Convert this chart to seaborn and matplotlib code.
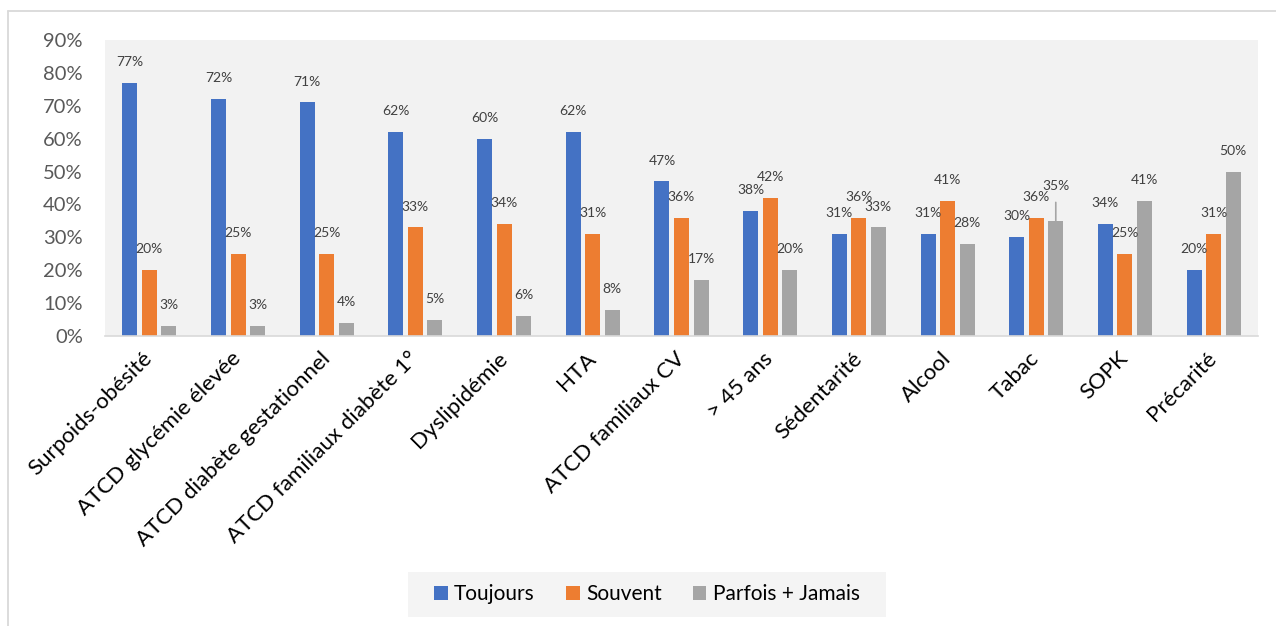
import matplotlib
matplotlib.use("Agg")
import matplotlib.pyplot as plt
from matplotlib.lines import Line2D
from matplotlib.path import Path
from matplotlib.ticker import FuncFormatter, MultipleLocator
import pandas as pd
import seaborn as sns

# Facteurs de risque et fréquence de dépistage (en %)
categories = [
    "Surpoids-obésité", "ATCD glycémie élevée", "ATCD diabète gestationnel",
    "ATCD familiaux diabète 1°", "Dyslipidémie", "HTA", "ATCD familiaux CV",
    "> 45 ans", "Sédentarité", "Alcool", "Tabac", "SOPK", "Précarité",
]
series = ["Toujours", "Souvent", "Parfois + Jamais"]
toujours = [77, 72, 71, 62, 60, 62, 47, 38, 31, 31, 30, 34, 20]
souvent = [20, 25, 25, 33, 34, 31, 36, 42, 36, 41, 36, 25, 31]
parfois_jamais = [3, 3, 4, 5, 6, 8, 17, 20, 33, 28, 35, 41, 50]
y_ticks = [0, 10, 20, 30, 40, 50, 60, 70, 80, 90]

colors = ["#4472C4", "#ED7D31", "#A5A5A5"]

df = pd.DataFrame({
    "categorie": categories * 3,
    "serie": [s for s in series for _ in categories],
    "valeur": toujours + souvent + parfois_jamais,
})

sns.set_theme(style="white")
plt.rcParams["font.family"] = ["Lato", "DejaVu Sans"]

fig = plt.figure(figsize=(12.76, 6.26), dpi=100)
ax = fig.add_axes([105 / 1276, 1 - 336 / 626, (1258 - 105) / 1276, (336 - 40) / 626])
ax.set_facecolor("#F2F2F2")

sns.barplot(
    data=df, x="categorie", y="valeur", hue="serie",
    order=categories, hue_order=series, palette=colors,
    width=0.66, gap=0.23, linewidth=0, saturation=1, ax=ax,
)

ax.set_ylim(y_ticks[0], y_ticks[-1])
ax.set_xlim(-0.5, len(categories) - 0.5)
ax.yaxis.set_major_locator(MultipleLocator(10))
ax.yaxis.set_major_formatter(FuncFormatter(lambda v, _: f"{v:.0f}%"))
ax.tick_params(axis="y", labelsize=14.5, labelcolor="#595959", length=0, pad=16)
ax.tick_params(axis="x", labelsize=16, labelcolor="#000000", length=0, pad=14)
plt.setp(ax.get_xticklabels(), rotation=45, ha="right", va="center",
         rotation_mode="anchor")
ax.set_xlabel("")
ax.set_ylabel("")

for side in ["top", "right", "left"]:
    ax.spines[side].set_visible(False)
ax.spines["bottom"].set_color("#D9D9D9")
ax.spines["bottom"].set_linewidth(1.2)

# Étiquettes de valeur au-dessus des barres
raised = {("Tabac", "Parfois + Jamais")}
for container, serie in zip(ax.containers, series):
    for bar, cat in zip(container.patches, categories):
        h = bar.get_height()
        x = bar.get_x() + bar.get_width() / 2
        if (cat, serie) in raised:
            ax.annotate(f"{h:.0f}%", xy=(x, h), xytext=(0, 25),
                        textcoords="offset points", ha="center", va="center",
                        fontsize=10, color="#404040",
                        arrowprops=dict(arrowstyle="-", color="#A5A5A5",
                                        lw=1.2, shrinkA=5, shrinkB=0))
        else:
            ax.annotate(f"{h:.0f}%", xy=(x, h), xytext=(0, 15),
                        textcoords="offset points", ha="center", va="center",
                        fontsize=10, color="#404040")

sns.move_legend(
    ax, "center", bbox_to_anchor=(647 / 1276, 1 - 594.5 / 626),
    bbox_transform=fig.transFigure, ncol=3, title=None, frameon=True,
    fontsize=15, handlelength=0.65, handleheight=0.65, handletextpad=0.3,
    columnspacing=1.5, borderpad=0.1,
)
leg = ax.get_legend()


def wide_box(x0, y0, width, height, mutation_size, pad_x=24, pad_y=10):
    """Rectangular legend frame with separate horizontal/vertical padding."""
    x0, x1 = x0 - pad_x, x0 + width + pad_x
    y0, y1 = y0 - pad_y, y0 + height + pad_y
    return Path([(x0, y0), (x1, y0), (x1, y1), (x0, y1), (x0, y0)],
                closed=True)


frame = leg.get_frame()
frame.set_boxstyle(wide_box)
frame.set_facecolor("#F2F2F2")
frame.set_edgecolor("none")
for t in leg.get_texts():
    t.set_color("#000000")

# Cadre extérieur du graphique
frame_kw = dict(color="#D9D9D9", lw=1.3, transform=fig.transFigure)
fig.add_artist(Line2D([7.5 / 1276, 1], [1 - 10.5 / 626] * 2, **frame_kw))
fig.add_artist(Line2D([7.5 / 1276] * 2, [0, 1 - 10.5 / 626], **frame_kw))

fig.savefig("out.png", dpi=100, facecolor="white")
